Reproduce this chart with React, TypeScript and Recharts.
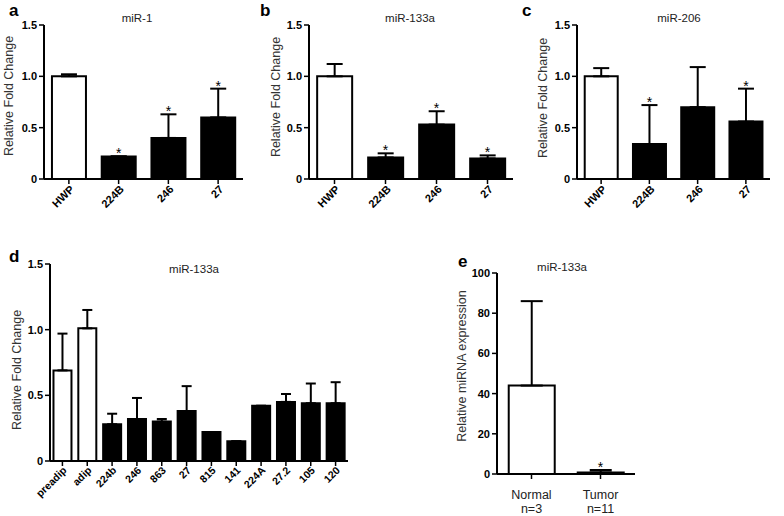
import React from 'react';
import { ComposedChart, Bar, XAxis, YAxis, ErrorBar, Cell, Line } from 'recharts';

// ---------- data ----------
const abcCategories = ['HWP', '224B', '246', '27'];
const abcWhite = [true, false, false, false];

const mir1Values = [1.0, 0.22, 0.4, 0.6];
const mir1Upper = [1.02, 0.22, 0.63, 0.88];
const mir1Stars = [false, true, true, true];

const mir133aValues = [1.0, 0.21, 0.53, 0.2];
const mir133aUpper = [1.12, 0.25, 0.66, 0.23];
const mir133aStars = [false, true, true, true];

const mir206Values = [1.0, 0.34, 0.7, 0.56];
const mir206Upper = [1.08, 0.72, 1.09, 0.88];
const mir206Stars = [false, true, false, true];

const dCategories = ['preadip', 'adip', '224b', '246', '863', '27', '815', '141', '224A', '27.2', '105', '120'];
const dValues = [0.69, 1.01, 0.28, 0.32, 0.3, 0.38, 0.22, 0.15, 0.42, 0.45, 0.44, 0.44];
const dUpper = [0.97, 1.15, 0.36, 0.48, 0.32, 0.57, 0.22, 0.15, 0.42, 0.51, 0.59, 0.6];
const dWhite = [true, true, false, false, false, false, false, false, false, false, false, false];
const dStars = dCategories.map(() => false);

const eCategories = ['Normal', 'Tumor'];
const eSizes = ['n=3', 'n=11'];
const eValues = [44, 0.8];
const eUpper = [86, 2.0];
const eStars = [false, true];
const eWhite = [true, false];

const foldTicks = [0, 0.5, 1.0, 1.5];
const exprTicks = [0, 20, 40, 60, 80, 100];

// ---------- helpers ----------
const FONT = '"Liberation Sans", Arial, sans-serif';

function buildRows(cats: string[], vals: number[], upper: number[], stars: boolean[], white: boolean[]) {
  return cats.map((name, i) => ({
    name,
    value: vals[i],
    err: [0, Math.max(0, upper[i] - vals[i])],
    hi: upper[i],
    star: stars[i],
    white: white[i],
  }));
}

const foldFmt = (v: number) => (v === 0 ? '0' : v.toFixed(1));
const exprFmt = (v: number) => String(v);

const makeRotTick = (fontSize: number, dx: number, dy: number) => (props: any) => {
  const { x, y, payload } = props;
  const ax = x + dx;
  const ay = y + dy;
  return (
    <text
      x={ax}
      y={ay}
      transform={`rotate(-45 ${ax} ${ay})`}
      textAnchor="end"
      fontSize={fontSize}
      fontWeight="bold"
      fontFamily={FONT}
      fill="#000"
    >
      {payload.value}
    </text>
  );
};

const ETick = (props: any) => {
  const { x, y, payload, index } = props;
  return (
    <g>
      <text x={x} y={y + 18} textAnchor="middle" fontSize={12.5} fontFamily={FONT} fill="#222">
        {payload.value}
      </text>
      <text x={x} y={y + 32} textAnchor="middle" fontSize={12.5} fontFamily={FONT} fill="#222">
        {eSizes[index]}
      </text>
    </g>
  );
};

const starDot = (props: any) => {
  const { cx, cy, payload, index } = props;
  if (!payload || !payload.star || cx == null || cy == null) return <g key={`s${index}`} />;
  return (
    <text key={`s${index}`} x={cx} y={cy + 2} textAnchor="middle" fontSize={14} fontFamily={FONT} fill="#000">
      *
    </text>
  );
};

type PanelProps = {
  left: number;
  top: number;
  width: number;
  height: number;
  margin: { top: number; right: number; bottom: number; left: number };
  yWidth: number;
  xHeight: number;
  rows: any[];
  domain: [number, number];
  ticks: number[];
  fmt: (v: number) => string;
  gap: string;
  capHalf: number;
  tick: any;
};

function Panel(p: PanelProps) {
  return (
    <div style={{ position: 'absolute', left: p.left, top: p.top, width: p.width, height: p.height }}>
      <ComposedChart width={p.width} height={p.height} data={p.rows} margin={p.margin} barCategoryGap={p.gap}>
        <XAxis
          dataKey="name"
          interval={0}
          height={p.xHeight}
          axisLine={{ stroke: '#000', strokeWidth: 2 }}
          tickLine={{ stroke: '#000', strokeWidth: 1.5 }}
          tickSize={5}
          tick={p.tick}
        />
        <YAxis
          width={p.yWidth}
          domain={p.domain}
          ticks={p.ticks}
          tickFormatter={p.fmt}
          axisLine={{ stroke: '#000', strokeWidth: 2 }}
          tickLine={{ stroke: '#000', strokeWidth: 1.5 }}
          tickSize={5}
          tick={{ fontSize: 11, fontWeight: 'bold', fill: '#000', fontFamily: FONT }}
          allowDataOverflow
        />
        <Bar dataKey="value" stroke="#000" strokeWidth={2} isAnimationActive={false}>
          {p.rows.map((r, i) => (
            <Cell key={i} fill={r.white ? '#fff' : '#000'} />
          ))}
          <ErrorBar dataKey="err" width={p.capHalf} stroke="#000" strokeWidth={2} direction="y" isAnimationActive={false} />
        </Bar>
        <Line dataKey="hi" stroke="none" dot={starDot} activeDot={false} isAnimationActive={false} legendType="none" />
      </ComposedChart>
    </div>
  );
}

const textStyle: React.CSSProperties = { position: 'absolute', fontFamily: FONT, whiteSpace: 'nowrap', lineHeight: 1 };

function Title({ cx, cy, text }: { cx: number; cy: number; text: string }) {
  return (
    <div style={{ ...textStyle, left: cx, top: cy, transform: 'translate(-50%, -50%)', fontSize: 11.5, color: '#222' }}>
      {text}
    </div>
  );
}

function Letter({ x, y, text }: { x: number; y: number; text: string }) {
  return (
    <div style={{ ...textStyle, left: x, top: y, fontSize: 17, fontWeight: 'bold', color: '#000' }}>{text}</div>
  );
}

function YTitle({ cx, cy, text }: { cx: number; cy: number; text: string }) {
  return (
    <div
      style={{
        ...textStyle,
        left: cx,
        top: cy,
        transform: 'translate(-50%, -50%) rotate(-90deg)',
        fontSize: 12.5,
        color: '#333',
      }}
    >
      {text}
    </div>
  );
}

export default function App() {
  const aRows = buildRows(abcCategories, mir1Values, mir1Upper, mir1Stars, abcWhite);
  const bRows = buildRows(abcCategories, mir133aValues, mir133aUpper, mir133aStars, abcWhite);
  const cRows = buildRows(abcCategories, mir206Values, mir206Upper, mir206Stars, abcWhite);
  const dRows = buildRows(dCategories, dValues, dUpper, dStars, dWhite);
  const eRows = buildRows(eCategories, eValues, eUpper, eStars, eWhite);

  const abcTick = makeRotTick(11, 6, 4);
  const dTick = makeRotTick(10.5, 5, 3);

  return (
    <div style={{ position: 'absolute', left: 0, top: 0, width: 784, height: 516, background: '#fff', overflow: 'hidden' }}>
      <Panel left={0} top={0} width={260} height={225} margin={{ top: 25, right: 17, bottom: 0, left: 0 }}
        yWidth={44} xHeight={46} rows={aRows} domain={[0, 1.5]} ticks={foldTicks} fmt={foldFmt} gap="16%" capHalf={8} tick={abcTick} />
      <Panel left={260} top={0} width={265} height={225} margin={{ top: 25, right: 12, bottom: 0, left: 0 }}
        yWidth={49} xHeight={46} rows={bRows} domain={[0, 1.5]} ticks={foldTicks} fmt={foldFmt} gap="16%" capHalf={8} tick={abcTick} />
      <Panel left={520} top={0} width={264} height={225} margin={{ top: 25, right: 14, bottom: 0, left: 0 }}
        yWidth={57} xHeight={46} rows={cRows} domain={[0, 1.5]} ticks={foldTicks} fmt={foldFmt} gap="16%" capHalf={8} tick={abcTick} />
      <Panel left={0} top={239} width={400} height={277} margin={{ top: 25, right: 52, bottom: 0, left: 0 }}
        yWidth={50} xHeight={55} rows={dRows} domain={[0, 1.5]} ticks={foldTicks} fmt={foldFmt} gap="14%" capHalf={5} tick={dTick} />
      <Panel left={400} top={248} width={384} height={268} margin={{ top: 25, right: 149, bottom: 0, left: 0 }}
        yWidth={97} xHeight={42} rows={eRows} domain={[0, 100]} ticks={exprTicks} fmt={exprFmt} gap="17%" capHalf={11} tick={<ETick />} />

      <Letter x={9} y={2} text="a" />
      <Letter x={260} y={2} text="b" />
      <Letter x={522} y={2} text="c" />
      <Letter x={9} y={248} text="d" />
      <Letter x={458} y={253} text="e" />

      <Title cx={137} cy={19} text="miR-1" />
      <Title cx={410} cy={19} text="miR-133a" />
      <Title cx={679} cy={19} text="miR-206" />
      <Title cx={194} cy={270} text="miR-133a" />
      <Title cx={562} cy={268} text="miR-133a" />

      <YTitle cx={9} cy={96} text="Relative Fold Change" />
      <YTitle cx={276} cy={97} text="Relative Fold Change" />
      <YTitle cx={543} cy={98} text="Relative Fold Change" />
      <YTitle cx={17} cy={370} text="Relative Fold Change" />
      <YTitle cx={462} cy={366} text="Relative miRNA expression" />
    </div>
  );
}
